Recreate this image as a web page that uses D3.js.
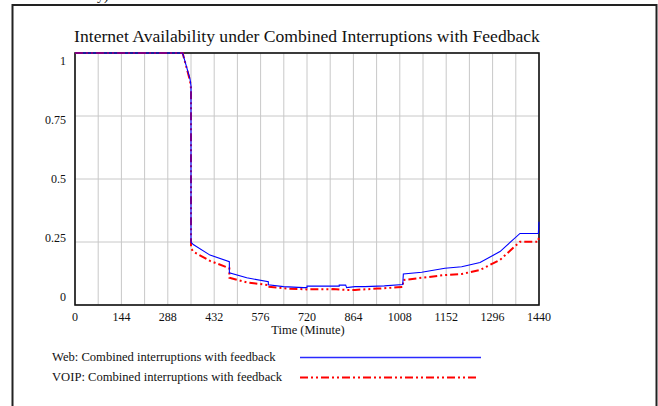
<!DOCTYPE html>
<html><head><meta charset="utf-8">
<script src="https://cdn.jsdelivr.net/npm/d3@7"></script>
<style>body{margin:0;background:#fff}svg{display:block}text{font-family:"Liberation Serif","Times New Roman",serif;fill:#111}</style>
</head><body>
<svg id="c" width="658" height="406"></svg>
<script>
const title = "Internet Availability under Combined Interruptions with Feedback";
const xLabel = "Time (Minute)";
const xTicks = [0,144,288,432,576,720,864,1008,1152,1296,1440];
const yTicks = [0,0.25,0.5,0.75,1];
const seriesNames = ["Web: Combined interruptions with feedback","VOIP: Combined interruptions with feedback"];
const webT = [0,334,357,360,360,367,419,479,479,533,600,600,647,709,720,720,820,820,840,843,869,900,960,1017,1018,1019,1076,1148,1200,1257,1319,1381,1438,1440];
const webV = [1,1,0.896,0.87,0.249,0.240,0.198,0.172,0.128,0.108,0.092,0.080,0.073,0.069,0.069,0.075,0.075,0.079,0.079,0.069,0.073,0.073,0.076,0.081,0.100,0.123,0.130,0.146,0.152,0.169,0.212,0.284,0.284,0.330];
const voipT = [0,334,357,360,360,367,419,479,479,533,600,600,660,720,800,843,869,940,1000,1018,1018,1076,1148,1200,1257,1319,1381,1438,1440];
const voipV = [1,1,0.89,0.86,0.225,0.212,0.175,0.146,0.108,0.090,0.079,0.072,0.065,0.062,0.063,0.060,0.060,0.065,0.070,0.072,0.099,0.108,0.119,0.123,0.139,0.179,0.251,0.251,0.278];

const svg = d3.select("#c");
const x = d3.scaleLinear([0,1440],[75,539]);
const y = d3.scaleLinear([0,1],[305,53]);
const yLab = d3.scaleLinear([0,1],[297,61]);

// outer frame
svg.append("rect").attr("x",12.5).attr("y",5).attr("width",644).attr("height",420)
  .attr("fill","none").attr("stroke","#222").attr("stroke-width",2);
svg.append("text").attr("x",97).attr("y",0).attr("font-size",14).text("y)");

// grid
const xGrid = d3.range(0,1441,72);
svg.append("g").selectAll("line").data(xGrid).join("line")
  .attr("x1",d=>x(d)).attr("x2",d=>x(d)).attr("y1",y(0)).attr("y2",y(1))
  .attr("stroke","#c8c8c8").attr("stroke-width",1);
svg.append("g").selectAll("line").data(yTicks).join("line")
  .attr("x1",x(0)).attr("x2",x(1440)).attr("y1",d=>y(d)).attr("y2",d=>y(d))
  .attr("stroke","#c8c8c8").attr("stroke-width",1);

// plot frame
svg.append("rect").attr("x",x(0)).attr("y",y(1)).attr("width",x(1440)-x(0)).attr("height",y(0)-y(1))
  .attr("fill","none").attr("stroke","#111").attr("stroke-width",1.6);

// tick labels
svg.append("g").selectAll("text").data(xTicks).join("text")
  .attr("x",d=>x(d)).attr("y",321).attr("text-anchor","middle").attr("font-size",12).text(d=>d);
svg.append("g").selectAll("text").data(yTicks).join("text")
  .attr("x",66).attr("y",d=>yLab(d)+4).attr("text-anchor","end").attr("font-size",12).text(d=>d);

svg.append("text").attr("x",308).attr("y",334).attr("text-anchor","middle").attr("font-size",12.5).text(xLabel);
svg.append("text").attr("x",307).attr("y",42).attr("text-anchor","middle").attr("font-size",17.6).text(title);

const line = d3.line().x(d=>x(d[0])).y(d=>y(d[1]));
const web = webT.map((t,i)=>[t,webV[i]]);
const voip = voipT.map((t,i)=>[t,voipV[i]]);
svg.append("path").attr("d",line(voip)).attr("fill","none").attr("stroke","#ff0000").attr("stroke-width",2)
  .attr("stroke-dasharray","8,3,2,3,2,3");
svg.append("path").attr("d",line(web)).attr("fill","none").attr("stroke","#0000ff").attr("stroke-width",1.1);

// legend
svg.append("text").attr("x",52).attr("y",361).attr("font-size",12.6).text(seriesNames[0]);
svg.append("text").attr("x",52).attr("y",381).attr("font-size",12.6).text(seriesNames[1]);
svg.append("line").attr("x1",300).attr("x2",481).attr("y1",357.5).attr("y2",357.5).attr("stroke","#2a2aff").attr("stroke-width",1.4);
svg.append("line").attr("x1",300).attr("x2",479).attr("y1",377.5).attr("y2",377.5).attr("stroke","#ff0000").attr("stroke-width",2).attr("stroke-dasharray","8,3,2,3,2,3");
</script>
</body></html>
